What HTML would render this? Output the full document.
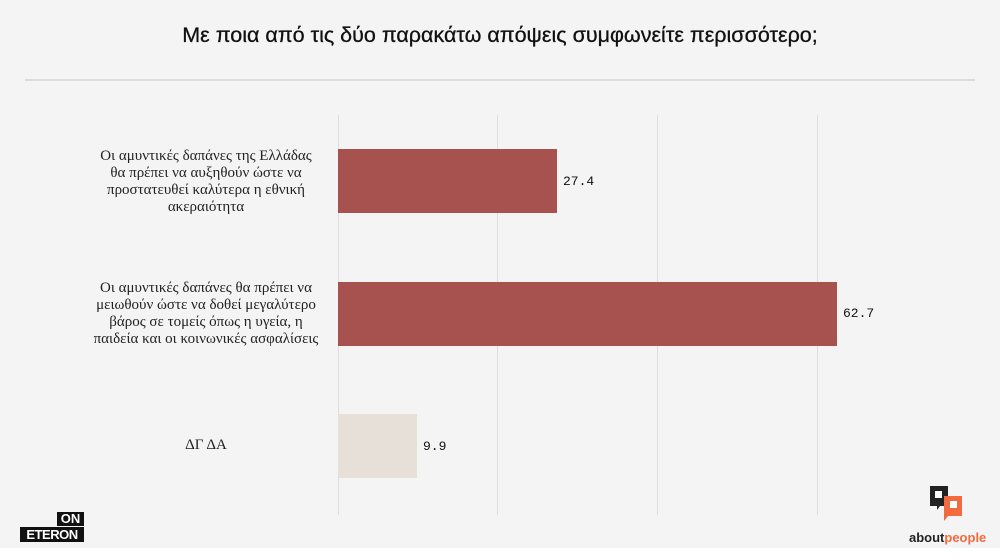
<!DOCTYPE html>
<html><head><meta charset="utf-8"><style>
body{margin:0;width:1000px;height:560px;background:#f4f4f4;overflow:hidden;position:relative;font-family:"Liberation Sans",sans-serif}
.t{position:absolute;top:23px;left:0;width:1000px;text-align:center;font-size:21.5px;color:#111;-webkit-text-stroke:0.3px #111}
.rule{position:absolute;left:25px;width:950px;top:79px;height:2px;background:#dcdcdc}
.g{position:absolute;top:115px;height:400px;width:1px;background:#dedede}
.bar{position:absolute;left:338px;height:64px}
.lab{position:absolute;right:680px;width:228px;text-align:center;font-family:"Liberation Serif",serif;font-size:15px;line-height:17px;color:#222}
.v{position:absolute;font-family:"Liberation Mono",monospace;font-size:13px;color:#111}
.bottom{position:absolute;top:548px;left:0;width:1000px;height:12px;background:#fff}
</style></head><body>
<div class="t">Με ποια από τις δύο παρακάτω απόψεις συμφωνείτε περισσότερο;</div>
<div class="rule"></div>
<div class="g" style="left:338px"></div>
<div class="g" style="left:497px"></div>
<div class="g" style="left:657px"></div>
<div class="g" style="left:817px"></div>
<div class="bar" style="top:149px;width:219px;background:#a85250"></div>
<div class="bar" style="top:282px;width:499px;background:#a85250"></div>
<div class="bar" style="top:414px;width:79px;background:#e7e0d8"></div>
<div class="lab" style="top:148px">Οι αμυντικές δαπάνες της Ελλάδας θα πρέπει να αυξηθούν ώστε να προστατευθεί καλύτερα η εθνική ακεραιότητα</div>
<div class="lab" style="top:280px">Οι αμυντικές δαπάνες θα πρέπει να μειωθούν ώστε να δοθεί μεγαλύτερο βάρος σε τομείς όπως η υγεία, η παιδεία και οι κοινωνικές ασφαλίσεις</div>
<div class="lab" style="top:437px">ΔΓ ΔΑ</div>
<div class="v" style="left:563px;top:174px">27.4</div>
<div class="v" style="left:843px;top:306px">62.7</div>
<div class="v" style="left:423px;top:439px">9.9</div>
<div style="position:absolute;left:57px;top:512px;width:27px;height:14px;background:#111;color:#fff;font-weight:bold;font-size:13px;line-height:14px;text-align:center">ON</div>
<div style="position:absolute;left:20px;top:527px;width:64px;height:15px;background:#111;color:#fff;font-weight:bold;font-size:13px;line-height:15px;text-align:center;letter-spacing:-0.5px">ETERON</div>
<svg style="position:absolute;left:930px;top:486px" width="36" height="36"><path d="M0 0h18v20h-8l-3 4v-4H0z" fill="#222"/><rect x="5" y="5" width="7" height="7" fill="#fff"/><path d="M14 10h18v20h-14l-4 5z" fill="#f26a3e"/><rect x="20" y="15" width="7" height="7" fill="#fff"/></svg>
<div style="position:absolute;left:909px;top:530px;font-size:13px;font-weight:bold;color:#222">about<span style="color:#f26a3e">people</span></div>
<div class="bottom"></div>
</body></html>
